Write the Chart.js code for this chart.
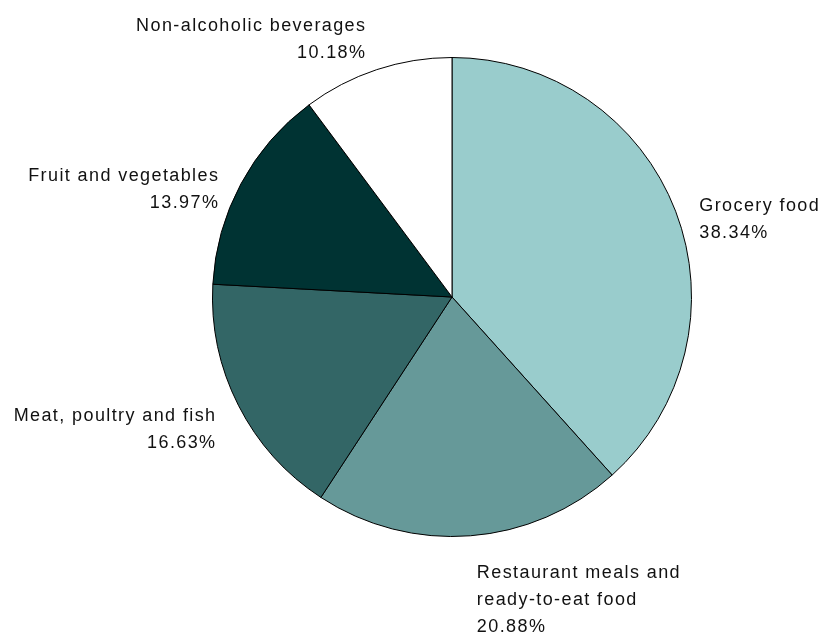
<!DOCTYPE html>
<html>
<head>
<meta charset="utf-8">
<script src="https://cdn.jsdelivr.net/npm/chart.js@4.4.1/dist/chart.umd.min.js"></script>
<style>
  html, body { margin: 0; padding: 0; background: #fff; }
  #wrap { width: 824px; height: 634px; }
</style>
</head>
<body>
<div id="wrap"><canvas id="pieChart" width="824" height="634"></canvas></div>
<script>
// food spending shares, clockwise from 12 o'clock
const categories = [
    ['Grocery food'],
    ['Restaurant meals and', 'ready-to-eat food'],
    ['Meat, poultry and fish'],
    ['Fruit and vegetables'],
    ['Non-alcoholic beverages']
];
const shares = [38.34, 20.88, 16.63, 13.97, 10.18];
const sliceColors = ['#99cccc', '#669999', '#336666', '#003333', '#ffffff'];

// draws the category name + percentage just outside each slice
const outsideLabels = {
    id: 'outsideLabels',
    afterDraw(chart) {
        const ctx = chart.ctx;
        const meta = chart.getDatasetMeta(0);
        const lineH = 27;
        ctx.save();
        ctx.font = '18px "Liberation Sans", Arial, sans-serif';
        ctx.fillStyle = '#111';
        ctx.textBaseline = 'middle';
        if ('letterSpacing' in ctx) ctx.letterSpacing = '1.4px';
        meta.data.forEach((arc, i) => {
            const mid = (arc.startAngle + arc.endAngle) / 2;
            const dx = Math.cos(mid), dy = Math.sin(mid);
            const r = arc.outerRadius + 20;
            const ax = arc.x + dx * r;
            const ay = arc.y + dy * r;
            const lines = categories[i].concat([shares[i].toFixed(2) + '%']);
            const left = dx < 0;
            ctx.textAlign = left ? 'right' : 'left';
            let y0;
            if (dy < -0.8) y0 = ay - (lines.length - 1) * lineH + 2;
            else if (dy > 0.8) y0 = ay + 17;
            else y0 = ay + 2;
            lines.forEach((t, k) => {
                const x = left ? ax - 4 : ax + 5;
                ctx.fillText(t, x, y0 + k * lineH);
            });
        });
        ctx.restore();
    }
};

new Chart(document.getElementById('pieChart'), {
    type: 'pie',
    data: {
        labels: categories.map(c => c.join(' ')),
        datasets: [{
            data: shares,
            backgroundColor: sliceColors,
            borderColor: '#000',
            borderWidth: 1
        }]
    },
    options: {
        responsive: false,
        animation: false,
        layout: { padding: { left: 212, right: 132, top: 57, bottom: 97 } },
        plugins: {
            legend: { display: false },
            tooltip: { enabled: false }
        }
    },
    plugins: [outsideLabels]
});
</script>
</body>
</html>
